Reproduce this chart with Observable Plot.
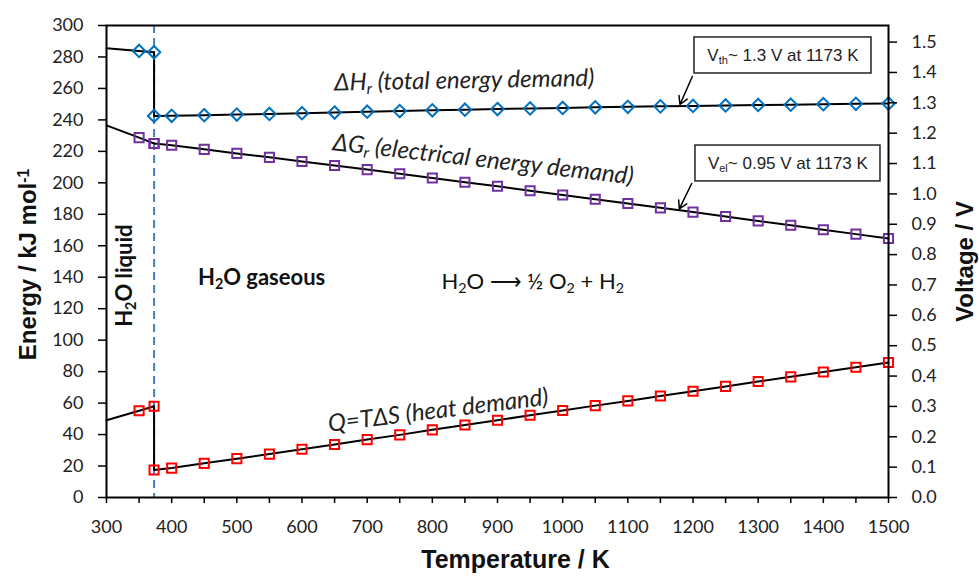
<!DOCTYPE html>
<html>
<head>
<meta charset="utf-8">
<script src="https://cdn.jsdelivr.net/npm/d3@7"></script>
<script src="https://cdn.jsdelivr.net/npm/@observablehq/plot@0.6"></script>
<style>
  html, body { margin: 0; padding: 0; background: #fff; }
  #chart { width: 979px; height: 583px; }
</style>
</head>
<body>
<div id="chart"></div>
<script>
// ---- Data ----
const temperature = [300, 350, 373, 373, 400, 450, 500, 550, 600, 650, 700, 750, 800, 850, 900, 950, 1000, 1050, 1100, 1150, 1200, 1250, 1300, 1350, 1400, 1450, 1500];
const deltaH = [285.6, 283.8, 283.0, 242.5, 242.6, 243.0, 243.4, 243.8, 244.3, 244.7, 245.2, 245.6, 246.1, 246.5, 246.9, 247.3, 247.6, 248.0, 248.3, 248.6, 248.9, 249.2, 249.5, 249.7, 250.0, 250.2, 250.4];
const deltaG = [236.5, 228.7, 225.0, 225.0, 223.9, 221.3, 218.7, 216.2, 213.6, 211.0, 208.4, 205.8, 203.1, 200.4, 197.8, 195.0, 192.3, 189.6, 186.9, 184.1, 181.4, 178.6, 175.8, 173.0, 170.2, 167.4, 164.6];
const heatQ  = [49.1, 55.1, 58.0, 17.5, 18.7, 21.7, 24.7, 27.6, 30.7, 33.7, 36.8, 39.8, 43.0, 46.1, 49.1, 52.3, 55.3, 58.4, 61.4, 64.5, 67.5, 70.6, 73.7, 76.7, 79.8, 82.8, 85.8];
const boilingPoint = [373];
const xTicks = d3.range(300, 1501, 50);
const yTicks = d3.range(0, 301, 20);
const voltTicks = d3.range(0, 16).map(i => i / 10);
const kJperV = 192.97; // 2F in kJ/(mol V)

const rows = temperature.map((T, i) => ({T, dH: deltaH[i], dG: deltaG[i], Q: heatQ[i]}));
const markers = rows.filter(d => d.T > 300);

const sans = "Lato, 'Open Sans', sans-serif";
const arial = "'Liberation Sans', Arial, sans-serif";

const chart = Plot.plot({
  width: 979,
  height: 583,
  marginLeft: 106,
  marginRight: 91,
  marginTop: 25,
  marginBottom: 86,
  style: {fontFamily: sans, fontSize: "18px", color: "#222", background: "#fff", overflow: "visible"},
  x: {domain: [300, 1500]},
  y: {domain: [0, 300]},
  marks: [
    Plot.ruleX(boilingPoint, {stroke: "#4a7ebb", strokeWidth: 2, strokeDasharray: "8,5"}),
    // lines
    Plot.line(rows, {x: "T", y: "dH", stroke: "#000", strokeWidth: 2}),
    Plot.line(rows, {x: "T", y: "dG", stroke: "#000", strokeWidth: 2}),
    Plot.line(rows, {x: "T", y: "Q", stroke: "#000", strokeWidth: 2}),
    // markers
    Plot.dot(markers, {x: "T", y: "dH", symbol: "diamond2", r: 5.6, stroke: "#0070C0", strokeWidth: 2, fill: "none"}),
    Plot.dot(markers, {x: "T", y: "dG", symbol: "square2", r: 5.8, stroke: "#7030A0", strokeWidth: 2, fill: "none"}),
    Plot.dot(markers, {x: "T", y: "Q", symbol: "square2", r: 5.8, stroke: "#FF0000", strokeWidth: 2, fill: "none"}),
    // curve annotations
    Plot.text(["ΔH_{r} (total energy demand)"], {x: 849, y: 265, text: d => d, rotate: -1, fontSize: 24, fontStyle: "italic", fontFamily: sans, fill: "#222"}),
    Plot.text(["ΔG_{r} (electrical energy demand)"], {x: 878, y: 214.8, text: d => d, rotate: 6.5, fontSize: 24, fontStyle: "italic", fontFamily: sans, fill: "#222"}),
    Plot.text(["Q=TΔS (heat demand)"], {x: 809, y: 55.3, text: d => d, rotate: -7, fontSize: 24, fontStyle: "italic", fontFamily: sans, fill: "#222"}),
    // region labels
    Plot.text(["H_{2}O liquid"], {x: 329, y: 141, text: d => d, rotate: -90, fontSize: 22, fontWeight: "bold", fontFamily: sans, fill: "#111"}),
    Plot.text(["H_{2}O gaseous"], {x: 538, y: 139.8, text: d => d, fontSize: 22, fontWeight: "bold", fontFamily: sans, fill: "#111"}),
    Plot.text(["H_{2}O ⟶ ½ O_{2} + H_{2}"], {x: 954, y: 136.7, text: d => d, fontSize: 22, fontFamily: sans, fill: "#111"}),
    // voltage call-outs
    Plot.arrow([{x1: 1199, y1: 267.6, x2: 1180, y2: 249.8}], {x1: "x1", y1: "y1", x2: "x2", y2: "y2", stroke: "#000", strokeWidth: 1.5, headLength: 9, bend: 0}),
    Plot.arrow([{x1: 1198, y1: 199.6, x2: 1179, y2: 183.4}], {x1: "x1", y1: "y1", x2: "x2", y2: "y2", stroke: "#000", strokeWidth: 1.5, headLength: 9, bend: 0}),
    Plot.rect([{x1: 1202.3, x2: 1473.9, y1: 269.5, y2: 292.4}], {x1: "x1", x2: "x2", y1: "y1", y2: "y2", fill: "#fff", stroke: "#222", strokeWidth: 1.5}),
    Plot.rect([{x1: 1203.8, x2: 1487.7, y1: 200.9, y2: 223.7}], {x1: "x1", x2: "x2", y1: "y1", y2: "y2", fill: "#fff", stroke: "#222", strokeWidth: 1.5}),
    Plot.text(["V_{th}~ 1.3 V at 1173 K"], {x: 1338, y: 281, text: d => d, fontSize: 17, fontFamily: arial, fill: "#222"}),
    Plot.text(["V_{el}~ 0.95 V at 1173 K"], {x: 1345.6, y: 212.3, text: d => d, fontSize: 17, fontFamily: arial, fill: "#222"}),
    // axes
    Plot.axisX({ticks: xTicks, tickFormat: d => (d % 100 === 0 ? String(d) : ""), tickSize: 6, tickPadding: 17, label: null, fontSize: 18, strokeWidth: 1.5, stroke: "#000"}),
    Plot.axisY({ticks: yTicks, tickFormat: d => String(d), tickSize: 8, tickPadding: 15, label: null, fontSize: 18, strokeWidth: 1.5, stroke: "#000"}),
    Plot.axisY({anchor: "right", ticks: voltTicks.map(v => v * kJperV), tickFormat: d => (d / kJperV).toFixed(1), tickSize: 8, tickPadding: 15, label: null, fontSize: 18, strokeWidth: 1.5, stroke: "#000"}),
    Plot.frame({stroke: "#000", strokeWidth: 2}),
    // axis titles
    Plot.text(["Temperature / K"], {frameAnchor: "bottom", textAnchor: "middle", dx: 18, dy: 70, text: d => d, fontSize: 25, fontWeight: "bold", fontFamily: arial, fill: "#111"}),
    Plot.text(["Energy / kJ mol^{-1}"], {frameAnchor: "left", textAnchor: "middle", dx: -78, dy: 3, rotate: -90, text: d => d, fontSize: 24, fontWeight: "bold", fontFamily: arial, fill: "#111"}),
    Plot.text(["Voltage / V"], {frameAnchor: "right", textAnchor: "middle", dx: 77, dy: 0, rotate: -90, text: d => d, fontSize: 24, fontWeight: "bold", fontFamily: arial, fill: "#111"})
  ]
});

// rich text: _{..} subscripts and ^{..} superscripts
function richify(svg) {
  svg.querySelectorAll("text, tspan").forEach(el => {
    if (el.children.length) return;
    const s = el.textContent;
    if (!/[_^]\{/.test(s)) return;
    el.textContent = "";
    const re = /([_^])\{([^}]*)\}/g;
    let last = 0, m;
    const add = (str, mode) => {
      const t = document.createElementNS("http://www.w3.org/2000/svg", "tspan");
      t.textContent = str;
      if (mode) {
        t.setAttribute("baseline-shift", mode === "_" ? "-25%" : "45%");
        t.setAttribute("font-size", "65%");
      }
      el.appendChild(t);
    };
    while ((m = re.exec(s))) {
      if (m.index > last) add(s.slice(last, m.index));
      add(m[2], m[1]);
      last = re.lastIndex;
    }
    if (last < s.length) add(s.slice(last));
  });
}
richify(chart);
document.getElementById("chart").appendChild(chart);
</script>
</body>
</html>
